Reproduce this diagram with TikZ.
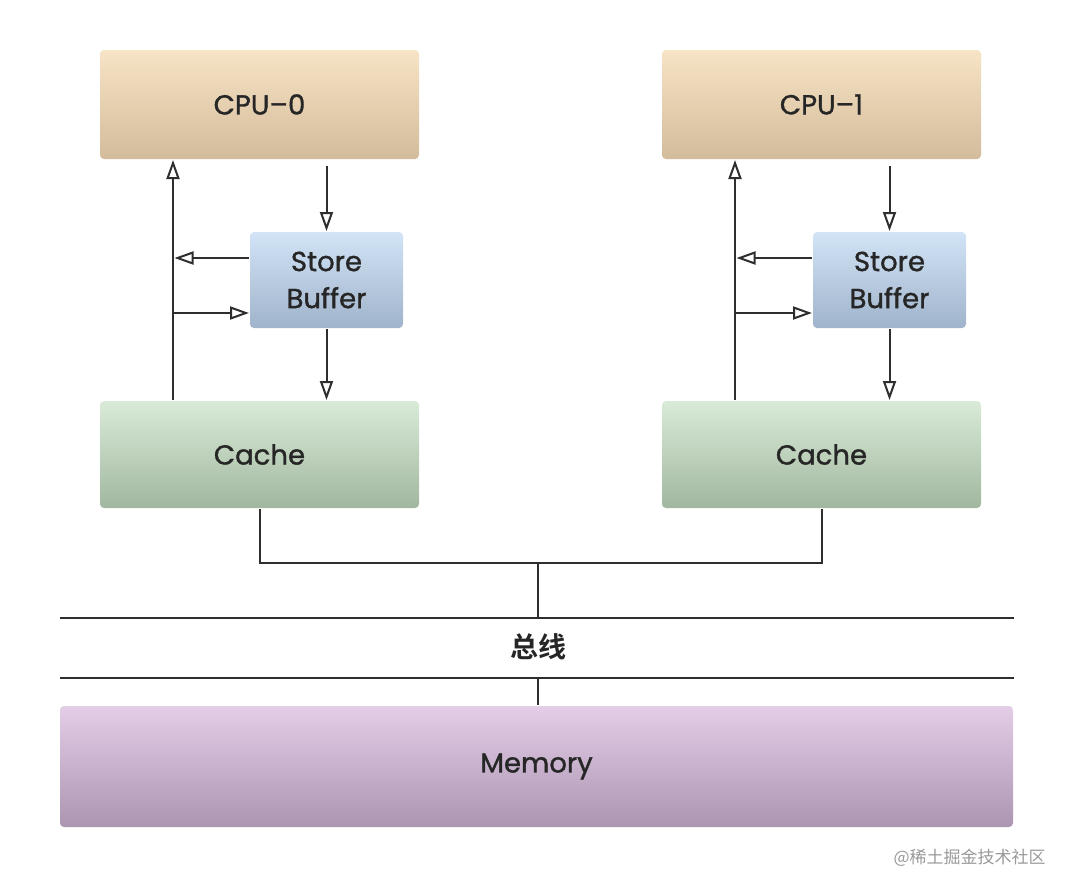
\documentclass[tikz,border=0pt]{standalone}
\usepackage{fontspec}
\setmainfont{Poppins}[FakeBold=1.2]
\newfontfamily\cjk{Noto Sans CJK SC}[BoldFont={Noto Sans CJK SC Bold}]
\usetikzlibrary{arrows.meta,backgrounds}

\definecolor{cputop}{HTML}{F7E3C5}
\definecolor{cpubot}{HTML}{D3BC9B}
\definecolor{sbtop}{HTML}{D2E4F6}
\definecolor{sbbot}{HTML}{9FB3CB}
\definecolor{cachetop}{HTML}{D9EBD8}
\definecolor{cachebot}{HTML}{A1B79F}
\definecolor{memtop}{HTML}{E4CDE7}
\definecolor{membot}{HTML}{AB95B1}
\definecolor{wire}{HTML}{2E2E2E}

\begin{document}
\begin{tikzpicture}[x=1pt,y=-1pt,line width=2pt,draw=wire]
    % `unit' is the common look of every box.
    % `arr' is the open triangle arrow between the boxes.
    \tikzstyle{unit} = [rounded corners=4pt,inner sep=0pt,text=black!85,font=\fontsize{27.5}{37}\selectfont]
    \tikzstyle{cpu} = [unit,top color=cputop,bottom color=cpubot,minimum width=319pt,minimum height=109pt]
    \tikzstyle{buffer} = [unit,top color=sbtop,bottom color=sbbot,minimum width=153pt,minimum height=96pt,align=center]
    \tikzstyle{cachebox} = [unit,top color=cachetop,bottom color=cachebot,minimum width=319pt,minimum height=107pt]
    \tikzstyle{mem} = [unit,top color=memtop,bottom color=membot,minimum width=953pt,minimum height=121pt]
    \tikzstyle{arr} = [-{Triangle[open,fill=white,length=19pt,width=13pt]}]
    %
    \useasboundingbox (0,0) rectangle (1074,894);
    % CPUs, store buffers and caches
    \node[cpu] (cpu0) at (259.5,104.5) {CPU--0};
    \node[cpu] (cpu1) at (821.5,104.5) {CPU--1};
    \node[buffer] (sb0) at (326.5,280) {Store\\Buffer};
    \node[buffer] (sb1) at (889.5,280) {Store\\Buffer};
    \node[cachebox] (cache0) at (259.5,454.5) {Cache};
    \node[cachebox] (cache1) at (821.5,454.5) {Cache};
    \node[mem] (mem) at (536.5,766.5) {Memory};
    % bus
    \node[font=\cjk\bfseries\fontsize{28}{32}\selectfont,text=black!85] (bus) at (538,647) {总线};
    \coordinate (busTL) at (60,618);
    \coordinate (busTR) at (1014,618);
    \coordinate (busBL) at (60,678);
    \coordinate (busBR) at (1014,678);
    \coordinate (join) at (538,563);
    \coordinate (up0) at (173,280);
    \coordinate (up1) at (735,280);
    \node[anchor=east,text=black!40,font=\cjk\fontsize{17}{20}\selectfont] (mark) at (1050,858) {@稀土掘金技术社区};
    %
    % CPU-0 side
    \draw[arr] (cache0.north -| up0) -- (cpu0.south -| up0);
    \draw[arr,shorten >=1.5pt] ([yshift=22pt]sb0.west) -- ([yshift=22pt]sb0.west -| up0);
    \draw[arr] ([yshift=-33pt]sb0.west -| up0) -- ([yshift=-33pt]sb0.west);
    \draw[arr,shorten <=6pt] (cpu0.south -| sb0) -- (sb0.north);
    \draw[arr] (sb0.south) -- (cache0.north -| sb0);
    % CPU-1 side
    \draw[arr] (cache1.north -| up1) -- (cpu1.south -| up1);
    \draw[arr,shorten >=1.5pt] ([yshift=22pt]sb1.west) -- ([yshift=22pt]sb1.west -| up1);
    \draw[arr] ([yshift=-33pt]sb1.west -| up1) -- ([yshift=-33pt]sb1.west);
    \draw[arr,shorten <=6pt] (cpu1.south -| sb1) -- (sb1.north);
    \draw[arr] (sb1.south) -- (cache1.north -| sb1);
    % caches to bus to memory
    \draw (cache0.south) |- (join) -| (cache1.south);
    \draw (join) -- (join |- busTL);
    \draw[line width=2.2pt] (busTL) -- (busTR)  (busBL) -- (busBR);
    \draw (join |- busBL) -- (mem.north -| join);
\end{tikzpicture}
\end{document}
